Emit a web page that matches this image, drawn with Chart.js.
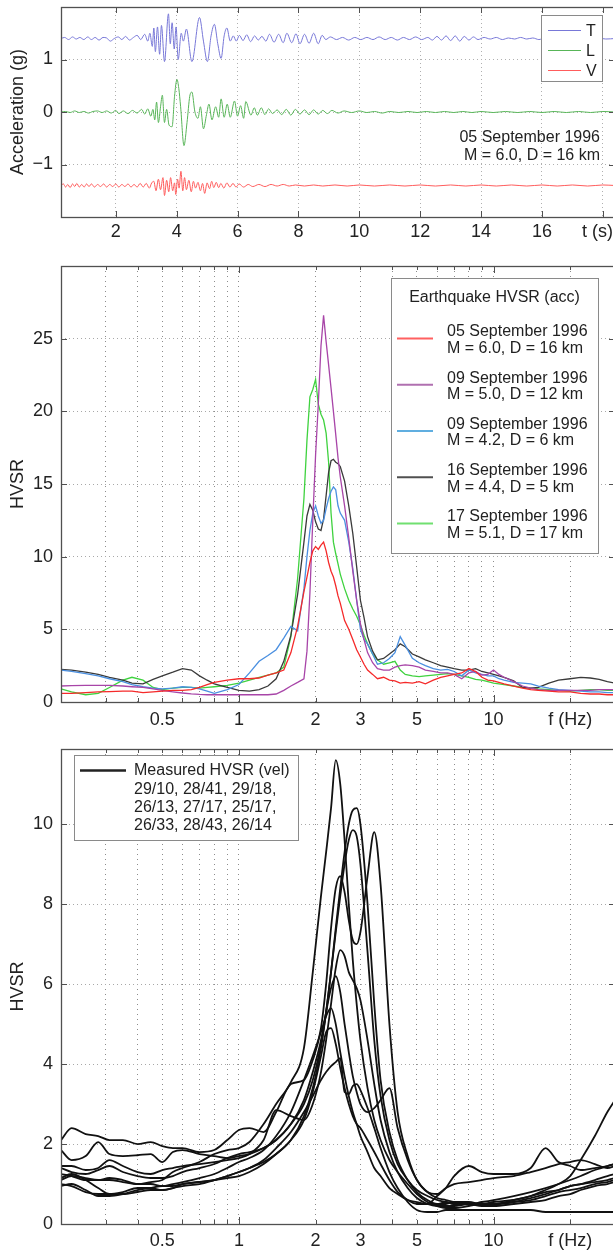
<!DOCTYPE html>
<html><head><meta charset="utf-8">
<script src="https://cdn.jsdelivr.net/npm/chart.js@4"></script>
<style>
html,body{margin:0;padding:0;background:#fff;overflow:hidden;width:613px;height:1252px;position:relative;}
canvas{position:absolute;left:0;}
</style></head><body>
<canvas id="c1" width="625" height="250" style="top:0px"></canvas>
<canvas id="c2" width="625" height="490" style="top:250px"></canvas>
<canvas id="c3" width="625" height="512" style="top:740px"></canvas>
<script>
// ---------------- DATA ----------------
// Panel 1: accelerograms (time s, acceleration g, before vertical offset)
const traceNames = ['T', 'L', 'V'];
const traceOffsets = [1.4, 0, -1.4];
const traceT = [[0.2,0],[0.32,0.02],[0.45,-0.02],[0.58,0.03],[0.7,-0.01],[0.82,0.02],[0.95,-0.02],[1.08,0.03],[1.2,-0.02],[1.32,0.02],[1.45,-0.03],[1.58,0.02],[1.7,0.01],[1.82,-0.05],[1.95,0.0],[2.08,0.03],[2.2,-0.02],[2.32,0.04],[2.45,-0.03],[2.58,0.02],[2.7,0.06],[2.82,-0.02],[2.95,0.08],[3.05,-0.05],[3.12,0.1],[3.2,-0.15],[3.25,0.2],[3.3,-0.25],[3.37,0.22],[3.44,-0.3],[3.5,0.25],[3.6,-0.44],[3.73,0.47],[3.79,-0.1],[3.85,0.3],[3.92,-0.2],[3.98,0.22],[4.05,-0.4],[4.15,0.1],[4.22,-0.05],[4.32,0.18],[4.5,-0.44],[4.75,0.4],[4.88,-0.05],[5.01,-0.44],[5.13,0.05],[5.24,0.27],[5.35,-0.1],[5.46,-0.38],[5.56,0.05],[5.65,0.2],[5.76,-0.05],[5.86,0.05],[5.96,-0.05],[6.06,0.06],[6.18,-0.04],[6.3,0.07],[6.43,-0.06],[6.56,0.05],[6.68,-0.03],[6.8,0.04],[6.93,-0.05],[7.05,0.08],[7.2,-0.07],[7.35,0.08],[7.5,-0.08],[7.62,0.1],[7.78,-0.08],[7.92,0.09],[8.05,-0.1],[8.2,0.08],[8.35,-0.09],[8.5,0.1],[8.65,-0.1],[8.78,0.06],[8.9,-0.02],[9.05,0.03],[9.25,-0.02],[9.45,0.02],[9.65,-0.03],[9.85,0.02],[10.05,-0.02],[10.25,0.02],[10.45,-0.02],[10.65,0.03],[10.85,-0.02],[11.05,0.02],[11.25,-0.03],[11.45,0.02],[11.65,-0.02],[11.85,0.03],[12.05,-0.02],[12.25,0.02],[12.4,-0.03],[12.55,0.04],[12.7,-0.03],[12.85,0.05],[13.0,-0.04],[13.15,0.05],[13.3,-0.05],[13.45,0.04],[13.6,-0.03],[13.75,0.03],[13.9,-0.02],[14.1,0.02],[14.3,-0.01],[14.5,0.02],[14.7,-0.02],[14.9,0.01],[15.1,-0.01],[15.3,0.02],[15.5,-0.01],[15.7,0.01],[15.9,-0.02],[16.1,0.01],[16.3,0.0],[16.6,0.01],[16.9,-0.01],[17.2,0.01],[17.5,-0.01],[17.8,0.01],[18.1,-0.01],[18.4,0.0]];
const traceL = [[0.2,0],[0.35,0.01],[0.5,-0.01],[0.65,0.02],[0.8,-0.01],[0.95,0.01],[1.1,-0.02],[1.25,0.01],[1.4,0.02],[1.55,-0.01],[1.7,0.02],[1.85,-0.02],[2.0,0.03],[2.1,-0.03],[2.25,0.02],[2.4,-0.03],[2.55,0.03],[2.7,-0.02],[2.85,0.05],[2.95,-0.04],[3.05,0.06],[3.15,-0.08],[3.22,0.05],[3.28,-0.15],[3.34,0.19],[3.4,-0.2],[3.47,0.1],[3.53,0.32],[3.6,-0.2],[3.67,0.05],[3.75,-0.25],[3.85,-0.28],[3.93,0.3],[4.01,0.62],[4.07,0.45],[4.13,0.1],[4.24,-0.64],[4.34,-0.2],[4.43,0.3],[4.5,0.38],[4.6,0.0],[4.7,-0.12],[4.78,0.1],[4.88,-0.32],[4.98,-0.05],[5.06,0.15],[5.16,-0.15],[5.28,0.1],[5.38,-0.1],[5.46,0.25],[5.56,-0.1],[5.66,0.15],[5.76,-0.1],[5.9,0.21],[6.0,-0.08],[6.1,0.12],[6.2,-0.12],[6.27,0.2],[6.44,-0.06],[6.55,0.08],[6.65,-0.06],[6.78,0.08],[6.9,-0.05],[7.02,0.06],[7.15,-0.03],[7.3,0.04],[7.45,-0.05],[7.6,0.05],[7.75,-0.06],[7.9,0.05],[8.05,-0.04],[8.2,0.04],[8.35,-0.05],[8.5,0.04],[8.65,-0.04],[8.8,0.03],[8.95,-0.03],[9.1,0.03],[9.3,-0.02],[9.5,0.02],[9.75,-0.01],[10.0,0.02],[10.25,-0.01],[10.5,0.01],[10.75,-0.02],[11.0,0.01],[11.3,-0.01],[11.6,0.01],[11.9,-0.01],[12.2,0.01],[12.5,-0.01],[12.8,0.01],[13.1,-0.01],[13.4,0.01],[13.7,-0.01],[14.0,0.01],[14.4,-0.01],[14.8,0.01],[15.2,-0.01],[15.6,0.01],[16.0,-0.01],[16.4,0.01],[16.8,-0.01],[17.2,0.01],[17.6,-0.01],[18.0,0.01],[18.4,0.0]];
const traceV = [[0.2,0],[0.28,0.03],[0.35,-0.03],[0.42,0.02],[0.5,-0.04],[0.58,0.03],[0.65,-0.02],[0.72,0.04],[0.8,-0.03],[0.88,0.02],[0.96,-0.03],[1.04,0.03],[1.12,-0.02],[1.2,0.03],[1.3,-0.03],[1.4,0.02],[1.5,-0.02],[1.6,0.03],[1.7,-0.03],[1.8,0.02],[1.9,-0.02],[2.0,0.03],[2.1,-0.03],[2.2,0.02],[2.3,-0.02],[2.4,0.03],[2.5,-0.03],[2.6,0.02],[2.7,-0.03],[2.8,0.04],[2.9,-0.03],[3.0,0.04],[3.1,-0.05],[3.18,0.05],[3.25,0.08],[3.32,-0.1],[3.4,0.12],[3.47,-0.08],[3.55,0.15],[3.6,-0.19],[3.67,0.1],[3.74,-0.12],[3.8,0.15],[3.87,-0.1],[3.93,0.05],[3.97,-0.17],[4.03,0.12],[4.08,-0.05],[4.14,0.27],[4.2,-0.1],[4.26,0.15],[4.32,-0.08],[4.4,0.1],[4.48,-0.12],[4.55,0.08],[4.62,-0.05],[4.7,0.06],[4.78,-0.1],[4.85,0.04],[4.92,-0.15],[5.0,0.05],[5.08,-0.06],[5.15,0.08],[5.22,-0.04],[5.3,0.06],[5.38,-0.04],[5.45,0.04],[5.55,-0.05],[5.65,0.05],[5.75,-0.03],[5.85,0.04],[5.95,-0.03],[6.05,0.03],[6.2,-0.03],[6.35,0.02],[6.5,-0.02],[6.7,0.02],[6.9,-0.02],[7.1,0.02],[7.3,-0.01],[7.5,0.02],[7.7,-0.01],[7.9,0.01],[8.2,-0.01],[8.5,0.01],[8.8,-0.01],[9.2,0.01],[9.6,-0.01],[10.0,0.01],[10.5,-0.01],[11.0,0.01],[11.5,-0.01],[12.0,0.01],[12.5,-0.01],[13.0,0.01],[13.5,-0.01],[14.0,0.01],[14.5,-0.01],[15.0,0.01],[15.5,-0.01],[16.0,0.01],[16.5,-0.01],[17.0,0.01],[17.5,-0.01],[18.0,0.01],[18.4,0.0]];
const timeTicks = [2, 4, 6, 8, 10, 12, 14, 16, 18];
const accTicks = [-1, 0, 1];
const timeAxisLabel = 't (s)';

// Panel 2: earthquake HVSR (acc)
const eqLabels = [
  ['05 September 1996', 'M = 6.0, D = 16 km'],
  ['09 September 1996', 'M = 5.0, D = 12 km'],
  ['09 September 1996', 'M = 4.2, D = 6 km'],
  ['16 September 1996', 'M = 4.4, D = 5 km'],
  ['17 September 1996', 'M = 5.1, D = 17 km']
];
const freqEq = [0.2,0.22,0.25,0.28,0.31,0.35,0.38,0.42,0.46,0.5,
 0.55,0.6,0.65,0.7,0.75,0.8,0.9,1.0,1.1,1.2,
 1.3,1.4,1.5,1.6,1.7,1.8,1.85,1.9,1.95,2.0,
 2.05,2.1,2.15,2.2,2.25,2.3,2.35,2.4,2.45,2.5,
 2.6,2.7,2.8,2.9,3.0,3.1,3.2,3.35,3.5,3.7,
 3.9,4.1,4.3,4.5,4.8,5.1,5.4,5.8,6.2,6.6,
 7.0,7.5,8.0,8.5,9.0,9.5,10,10.5,11,12,
 13,14,15,16.5,18,20,22,24,26,28,
 30];
const hvsrRed = [0.6,0.6,0.65,0.7,0.72,0.75,0.75,0.65,0.7,0.75,
 0.8,0.8,0.85,1.0,1.2,1.35,1.5,1.6,1.6,1.65,
 1.85,2.0,2.2,3.4,5.2,7.6,8.6,9.6,10.4,10.7,
 10.5,10.8,11.0,10.4,9.6,9.0,8.6,8.0,7.3,6.8,
 5.6,5.0,4.3,3.6,3.1,2.6,2.2,1.9,1.6,1.7,
 1.5,1.45,1.3,1.35,1.3,1.4,1.25,1.5,1.7,1.8,
 1.9,2.0,2.3,2.1,1.7,1.5,1.45,1.35,1.25,1.1,
 0.95,0.85,0.8,0.75,0.7,0.7,0.6,0.55,0.55,0.5,
 0.5];
const hvsrPurple = [1.1,1.12,1.15,1.15,1.15,1.1,1.05,1.0,0.9,0.8,
 0.7,0.62,0.56,0.52,0.5,0.5,0.5,0.5,0.5,0.5,
 0.5,0.55,0.8,1.1,1.35,1.6,3.5,7.5,12.5,17.0,
 20.5,24.5,26.6,24.8,23.2,21.6,20.0,18.4,16.8,15.5,
 13.5,11.3,9.0,7.0,5.4,4.3,3.4,2.7,2.3,2.2,
 2.2,2.4,2.5,2.55,2.5,2.4,2.2,2.1,2.0,2.0,
 1.9,1.6,2.0,2.1,1.85,1.9,2.2,1.9,1.7,1.4,
 1.1,0.95,0.85,0.8,0.8,0.8,0.8,0.8,0.85,0.85,
 0.85];
const hvsrBlue = [2.2,2.1,1.95,1.8,1.6,1.4,1.2,1.05,0.95,0.9,
 0.95,1.05,1.0,0.9,0.75,0.6,0.85,1.2,2.0,2.8,
 3.2,3.6,4.4,5.2,4.9,7.8,10.0,11.8,13.0,13.5,
 12.8,12.3,12.5,13.3,14.0,14.5,14.8,14.6,13.5,13.0,
 12.5,11.0,9.2,7.0,5.0,4.3,4.0,3.3,2.6,2.7,
 3.0,3.4,4.5,3.9,3.0,2.7,2.5,2.3,2.2,2.25,
 2.1,1.8,2.2,2.0,1.9,1.8,1.8,1.6,1.5,1.35,
 1.3,1.25,1.1,0.95,0.85,0.8,0.75,0.7,0.7,0.65,
 0.65];
const hvsrBlack = [2.25,2.2,2.05,1.9,1.7,1.5,1.3,1.25,1.55,1.8,
 2.05,2.3,2.2,1.8,1.5,1.25,1.0,0.8,0.75,0.85,
 1.1,1.6,2.8,4.6,7.4,11.0,12.8,13.6,13.2,12.4,
 11.9,11.8,12.6,14.2,15.8,16.6,16.7,16.5,16.4,16.2,
 15.2,13.5,11.6,9.3,7.0,5.8,4.5,3.5,2.9,3.0,
 3.3,3.6,4.0,3.8,3.3,3.1,2.9,2.7,2.5,2.4,
 2.3,2.2,2.2,2.3,2.1,2.0,1.9,1.8,1.7,1.45,
 1.0,0.95,1.0,1.3,1.5,1.6,1.7,1.65,1.55,1.4,
 1.3];
const hvsrGreen = [0.9,0.7,0.5,0.6,1.0,1.5,1.7,1.5,1.0,0.85,
 0.95,1.0,1.0,0.95,1.0,1.05,1.15,1.3,1.5,1.7,
 1.85,2.0,2.4,4.5,8.5,14.0,18.0,21.0,21.5,22.2,
 20.5,19.8,19.4,18.5,16.5,13.0,11.0,10.2,9.5,8.8,
 7.8,7.0,6.4,5.9,5.3,4.6,4.0,3.3,2.9,2.6,
 2.7,2.8,2.2,1.9,1.8,1.75,1.8,1.85,1.9,1.95,
 1.9,1.8,1.7,1.55,1.5,1.4,1.3,1.25,1.2,1.1,
 1.0,0.95,0.9,0.85,0.8,0.75,0.8,0.85,0.85,0.8,
 0.8];
const hvsrTicks = [0, 5, 10, 15, 20, 25];

// Panel 3: measured HVSR (vel)
const measLabel = ['Measured HVSR (vel)', '29/10, 28/41, 29/18,', '26/13, 27/17, 25/17,', '26/33, 28/43, 26/14'];
const freqMeas = [0.2,0.22,0.25,0.28,0.31,0.35,0.4,0.45,0.5,0.55,
 0.6,0.7,0.8,0.9,1.0,1.1,1.25,1.4,1.6,1.8,
 1.95,2.1,2.2,2.3,2.4,2.5,2.6,2.7,2.8,2.9,
 3.0,3.2,3.4,3.6,3.9,4.2,4.6,5.0,5.5,6.0,
 6.5,7.0,8.0,9.0,10,12,14,16,18,20,
 22,25,28,30];
const meas1 = [1.1,1.2,1.15,1.1,1.1,1.05,1.0,1.05,1.1,1.3,
 1.4,1.55,1.75,1.85,1.9,2.05,2.5,3.0,3.55,4.4,
 6.3,8.2,9.3,10.4,11.6,11.0,9.6,8.0,6.6,5.5,
 4.6,3.4,2.6,2.1,1.6,1.3,1.0,0.75,0.55,0.45,
 0.4,0.4,0.45,0.5,0.5,0.6,0.7,0.8,0.85,0.95,
 1.0,1.1,1.2,1.25];
const meas2 = [1.0,0.95,0.8,0.75,0.75,0.8,0.9,0.9,0.85,0.9,
 1.0,1.05,1.1,1.2,1.3,1.4,1.55,1.75,2.1,2.7,
 3.4,4.4,5.3,6.3,7.4,8.4,9.3,10.0,10.35,10.4,
 10.0,8.0,5.5,3.6,2.3,1.6,1.1,0.8,0.6,0.5,
 0.55,0.5,0.5,0.45,0.45,0.5,0.55,0.6,0.7,0.75,
 0.85,0.95,1.0,1.05];
const meas3 = [2.1,2.4,2.25,2.2,2.1,2.1,2.0,2.05,1.95,1.9,
 1.9,1.8,1.85,2.1,2.35,2.4,2.3,2.8,3.5,3.6,
 4.1,4.9,6.0,7.4,8.4,8.7,8.3,7.6,7.1,7.0,
 7.3,8.7,9.8,8.5,5.0,2.8,1.7,1.1,0.8,0.65,
 0.6,0.55,0.5,0.5,0.55,0.6,0.7,0.85,1.0,1.2,
 1.6,2.2,2.8,3.1];
const meas4 = [1.85,1.6,1.7,2.05,1.75,1.7,1.72,1.75,1.55,1.8,
 1.85,1.75,1.7,1.65,1.7,1.75,1.9,2.1,2.5,3.0,
 3.6,4.5,5.3,6.3,7.3,8.2,9.0,9.6,9.85,9.7,
 9.0,6.8,4.6,3.2,2.1,1.5,1.1,0.85,0.7,0.6,
 0.55,0.5,0.5,0.55,0.6,0.7,0.8,0.9,1.0,1.1,
 1.2,1.35,1.45,1.5];
const meas5 = [1.45,1.45,1.35,1.4,1.6,1.45,1.3,1.25,1.35,1.4,
 1.45,1.5,1.55,1.6,1.65,1.75,2.1,2.85,2.7,2.6,
 3.0,3.8,4.6,5.5,6.4,6.85,6.7,6.3,6.1,5.9,
 5.6,4.6,3.5,2.6,1.8,1.3,0.9,0.65,0.5,0.45,
 0.45,0.45,0.5,0.5,0.5,0.55,0.65,0.75,0.85,0.95,
 1.0,1.05,1.1,1.15];
const meas6 = [1.4,1.3,1.25,1.35,1.45,1.3,1.2,1.15,1.15,1.2,
 1.3,1.4,1.5,1.65,1.75,1.8,1.9,2.1,2.5,3.1,
 3.8,4.6,5.3,5.9,6.2,5.8,5.0,4.3,3.7,3.3,
 3.0,2.8,2.9,3.1,3.4,2.4,1.6,1.1,0.8,0.75,
 0.9,1.0,1.05,1.1,1.15,1.2,1.3,1.4,1.5,1.55,
 1.6,1.5,1.4,1.45];
const meas7 = [1.25,1.2,1.1,1.1,1.15,1.1,1.0,1.0,0.95,1.0,
 1.05,1.15,1.25,1.4,1.55,1.65,1.85,2.2,2.8,3.6,
 4.2,4.8,5.2,5.4,5.0,4.3,3.7,3.2,2.8,2.5,
 2.2,1.8,1.4,1.2,0.9,0.75,0.6,0.55,0.5,0.7,
 0.9,1.2,1.45,1.3,1.25,1.25,1.4,1.9,1.55,1.45,
 1.35,1.4,1.45,1.5];
const meas8 = [1.15,1.25,1.1,0.9,0.75,0.75,0.8,0.85,0.85,0.9,
 0.95,1.0,1.1,1.2,1.3,1.4,1.6,1.9,2.3,2.8,
 3.2,3.6,3.8,3.95,4.05,4.15,3.3,3.25,3.45,3.5,
 3.35,2.9,2.4,1.9,1.3,0.9,0.55,0.35,0.3,0.3,
 0.35,0.35,0.35,0.35,0.35,0.35,0.35,0.3,0.3,0.3,
 0.3,0.3,0.3,0.3];
const meas9 = [0.95,1.0,0.85,0.7,0.7,0.75,0.85,0.9,0.95,0.95,
 1.0,1.05,1.1,1.15,1.2,1.3,1.5,1.75,2.1,2.6,
 3.3,4.2,4.8,4.9,4.5,3.9,3.4,3.0,2.7,2.5,
 2.4,2.1,1.8,1.5,1.1,0.8,0.6,0.5,0.5,0.5,
 0.5,0.55,0.55,0.5,0.5,0.55,0.6,0.7,0.8,0.85,
 0.9,1.0,1.05,1.1];
const measTicks = [0, 2, 4, 6, 8, 10];

// Log-frequency ticks (grid) and labels
const freqTicks = [0.3,0.4,0.5,0.6,0.7,0.8,0.9,1,2,3,4,5,6,7,8,9,10,20];
const freqTickLabels = {0.5:'0.5', 1:'1', 2:'2', 3:'3', 5:'5', 10:'10', 20:'f (Hz)'};

// ---------------- STYLE ----------------
const FONT = "'Liberation Sans', Arial, Helvetica, sans-serif";
Chart.defaults.font.family = FONT;
Chart.defaults.color = '#222';
const AXIS = '#505050';
const traceColors = ['#7878d8', '#58b558', '#ff5c5c'];
const eqColors = ['#f52a2a', '#a845a8', '#4a8fe0', '#3a3a3a', '#3fd23f'];
const eqLegendColors = ['#ff6060', '#b070b0', '#60aee0', '#505050', '#70e070'];

const xy = (xs, ys) => xs.map((x, i) => ({x: x, y: ys[i]}));

function fixedAxis(size, isX) {
  return function (s) {
    if (isX) s.height = size; else s.width = size;
    s.paddingTop = 0; s.paddingBottom = 0; s.paddingLeft = 0; s.paddingRight = 0;
  };
}

function framePlugin(tickLen, extra) {
  return {
    id: 'frame',
    afterDraw(chart) {
      const {ctx, chartArea: a, scales} = chart;
      const xs = scales.x, ys = scales.y;
      ctx.save();
      ctx.strokeStyle = AXIS; ctx.lineWidth = 1;
      ctx.beginPath();
      ys.ticks.forEach(t => {
        const y = Math.round(ys.getPixelForValue(t.value)) + 0.5;
        ctx.moveTo(a.left, y); ctx.lineTo(a.left + 6, y);
        ctx.moveTo(a.right, y); ctx.lineTo(a.right - 6, y);
      });
      xs.ticks.forEach(t => {
        const len = tickLen(t.value);
        const x = Math.round(xs.getPixelForValue(t.value)) + 0.5;
        ctx.moveTo(x, a.bottom); ctx.lineTo(x, a.bottom - len);
        ctx.moveTo(x, a.top); ctx.lineTo(x, a.top + len);
      });
      ctx.stroke();
      ctx.lineWidth = 1.3;
      ctx.strokeRect(a.left + 0.5, a.top + 0.5, a.right - a.left, a.bottom - a.top);
      ctx.restore();
      if (extra) { ctx.save(); extra(ctx, chart); ctx.restore(); }
    }
  };
}

function legendBox(ctx, x, y, w, h) {
  ctx.fillStyle = '#fff';
  ctx.fillRect(x, y, w, h);
  ctx.strokeStyle = '#8a8a8a'; ctx.lineWidth = 1;
  ctx.strokeRect(x + 0.5, y + 0.5, w, h);
}

const baseOpts = {
  responsive: false, animation: false, devicePixelRatio: 1,
  plugins: {legend: {display: false}, tooltip: {enabled: false}},
  elements: {point: {radius: 0}},
};

// ---------------- PANEL 1 ----------------
const traces = [traceT, traceL, traceV];
new Chart(document.getElementById('c1'), {
  type: 'line',
  data: {
    datasets: traces.map((tr, k) => ({
      label: traceNames[k],
      data: tr.map(p => ({x: p[0], y: p[1] + traceOffsets[k]})),
      borderColor: traceColors[k], borderWidth: 1, cubicInterpolationMode: 'monotone', fill: false
    }))
  },
  options: Object.assign({}, baseOpts, {
    layout: {padding: {top: 7, right: 10, bottom: 0, left: 0}},
    scales: {
      x: {
        type: 'linear', min: 0.2, max: 18.4,
        afterFit: fixedAxis(33, true),
        afterBuildTicks: s => { s.ticks = timeTicks.map(v => ({value: v})); },
        ticks: {font: {size: 18}, color: '#222', padding: 4, maxRotation: 0, autoSkip: false,
          callback: v => v === 18 ? '' : String(v)},
        grid: {color: '#b0b0b0', drawTicks: false, lineWidth: 1},
        border: {display: false, dash: [1, 3]}
      },
      y: {
        min: -2, max: 2,
        afterFit: fixedAxis(61, false),
        afterBuildTicks: s => { s.ticks = accTicks.map(v => ({value: v})); },
        ticks: {font: {size: 18}, color: '#222', padding: 8,
          callback: v => v < 0 ? '\u2212' + Math.abs(v) : String(v)},
        grid: {color: '#b0b0b0', drawTicks: false, lineWidth: 1},
        border: {display: false, dash: [1, 3]},
        title: {display: true, text: 'Acceleration (g)', font: {size: 18}, color: '#222', padding: {top: 7, bottom: 0}}
      }
    }
  }),
  plugins: [framePlugin(() => 6, (ctx, chart) => {
    legendBox(ctx, 541, 15, 61, 66);
    ctx.font = '16px ' + FONT; ctx.textBaseline = 'middle'; ctx.textAlign = 'left';
    traceNames.forEach((n, k) => {
      const y = 30.5 + k * 20;
      ctx.strokeStyle = traceColors[k]; ctx.lineWidth = 1.2;
      ctx.beginPath(); ctx.moveTo(548, y); ctx.lineTo(581, y); ctx.stroke();
      ctx.fillStyle = '#222'; ctx.fillText(n, 586, y + 1);
    });
    ctx.textAlign = 'right';
    ctx.fillText('05 September 1996', 600, 138);
    ctx.fillText('M = 6.0, D = 16 km', 600, 156);
    // axis unit label in place of the last tick label
    ctx.font = '18px ' + FONT; ctx.textAlign = 'right';
    ctx.fillText(timeAxisLabel, 613, chart.chartArea.bottom + 15);
  })]
});

// ---------------- PANEL 2 ----------------
const eqSeries = [hvsrRed, hvsrPurple, hvsrBlue, hvsrBlack, hvsrGreen];
const logTickLen = v => (v === 1 || v === 10) ? 7 : 4;
function freqAxis(height, pad) {
  return {
    type: 'logarithmic', min: 0.2, max: 30,
    afterFit: fixedAxis(height, true),
    afterBuildTicks: s => { s.ticks = freqTicks.map(v => ({value: v})); },
    ticks: {font: {size: 18}, color: '#222', padding: pad, maxRotation: 0, autoSkip: false,
      callback: v => freqTickLabels[v] !== undefined ? freqTickLabels[v] : ''},
    grid: {color: '#8c8c8c', drawTicks: false, lineWidth: 1},
    border: {display: false, dash: [1, 4]}
  };
}
new Chart(document.getElementById('c2'), {
  type: 'line',
  data: {
    datasets: eqSeries.map((s, k) => ({
      label: eqLabels[k].join(' '),
      data: xy(freqEq, s),
      borderColor: eqColors[k], borderWidth: 1.3, fill: false
    }))
  },
  options: Object.assign({}, baseOpts, {
    layout: {padding: {top: 16, right: 10, bottom: 0, left: 0}},
    scales: {
      x: freqAxis(38, 7),
      y: {
        min: 0, max: 30,
        afterFit: fixedAxis(61, false),
        afterBuildTicks: s => { s.ticks = hvsrTicks.map(v => ({value: v})); },
        ticks: {font: {size: 18}, color: '#222', padding: 8},
        grid: {color: '#a8a8a8', drawTicks: false, lineWidth: 1},
        border: {display: false, dash: [1, 3]},
        title: {display: true, text: 'HVSR', font: {size: 18}, color: '#222', padding: {top: 7, bottom: 0}}
      }
    }
  }),
  plugins: [framePlugin(logTickLen, (ctx) => {
    legendBox(ctx, 391, 28, 207, 275);
    ctx.font = '16px ' + FONT; ctx.textBaseline = 'middle';
    ctx.fillStyle = '#222'; ctx.textAlign = 'center';
    ctx.fillText('Earthquake HVSR (acc)', 494.5, 47.5);
    ctx.textAlign = 'left';
    eqLabels.forEach((lab, k) => {
      const y = 88.5 + k * 46.25;
      ctx.strokeStyle = eqLegendColors[k]; ctx.lineWidth = 2;
      ctx.beginPath(); ctx.moveTo(397, y); ctx.lineTo(433, y); ctx.stroke();
      ctx.fillStyle = '#222';
      ctx.fillText(lab[0], 447, y - 6.5);
      ctx.fillText(lab[1], 447, y + 10);
    });
  })]
});

// ---------------- PANEL 3 ----------------
const measSeries = [meas1, meas2, meas3, meas4, meas5, meas6, meas7, meas8, meas9];
new Chart(document.getElementById('c3'), {
  type: 'line',
  data: {
    datasets: measSeries.map((s, k) => ({
      label: 'meas' + (k + 1),
      data: xy(freqMeas, s),
      borderColor: '#111', borderWidth: 1.8, cubicInterpolationMode: 'monotone', fill: false
    }))
  },
  options: Object.assign({}, baseOpts, {
    layout: {padding: {top: 9, right: 10, bottom: 0, left: 0}},
    scales: {
      x: freqAxis(28, 6),
      y: {
        min: 0, max: 11.88,
        afterFit: fixedAxis(61, false),
        afterBuildTicks: s => { s.ticks = measTicks.map(v => ({value: v})); },
        ticks: {font: {size: 18}, color: '#222', padding: 8},
        grid: {color: '#a8a8a8', drawTicks: false, lineWidth: 1},
        border: {display: false, dash: [1, 3]},
        title: {display: true, text: 'HVSR', font: {size: 18}, color: '#222', padding: {top: 7, bottom: 0}}
      }
    }
  }),
  plugins: [framePlugin(logTickLen, (ctx) => {
    legendBox(ctx, 74, 15, 224, 85);
    ctx.strokeStyle = '#222'; ctx.lineWidth = 2.5;
    ctx.beginPath(); ctx.moveTo(80, 30.5); ctx.lineTo(126, 30.5); ctx.stroke();
    ctx.font = '16px ' + FONT; ctx.textBaseline = 'middle'; ctx.textAlign = 'left'; ctx.fillStyle = '#222';
    measLabel.forEach((t, i) => ctx.fillText(t, 134, 31 + i * 18.1));
  })]
});
</script>
</body></html>
